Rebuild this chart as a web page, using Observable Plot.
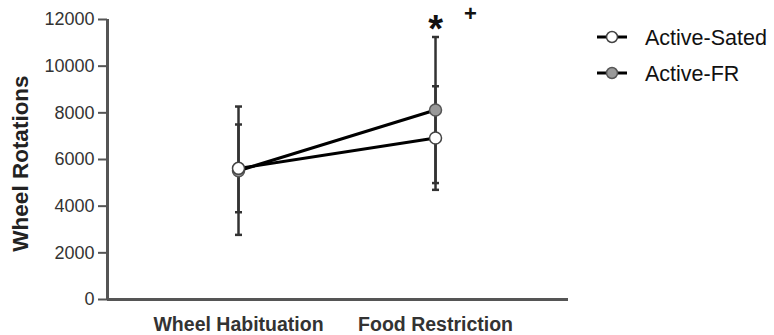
<!DOCTYPE html>
<html>
<head>
<meta charset="utf-8">
<script src="https://cdn.jsdelivr.net/npm/d3@7"></script>
<script src="https://cdn.jsdelivr.net/npm/@observablehq/plot@0.6"></script>
<style>
  body { margin: 0; background: #fff; }
  #chart { position: relative; width: 774px; height: 335px; font-family: "Liberation Sans", Arial, sans-serif; }
  #legend { position: absolute; left: 590px; top: 20px; }
</style>
</head>
<body>
<div id="chart"><div id="legend"></div></div>
<script>
// Phases on the x axis
const phases = ["Wheel Habituation", "Food Restriction"];
// Groups
const groups = ["Active-Sated", "Active-FR"];
// Mean wheel rotations per phase, one array per group
const satedMean = [5620, 6920];
const frMean = [5520, 8120];
// Error (±) per phase
const satedErr = [1880, 2220];
const frErr = [2750, 3130];
// Y axis ticks
const yTicks = [0, 2000, 4000, 6000, 8000, 10000, 12000];

const rows = [];
phases.forEach((p, i) => {
  rows.push({group: groups[0], phase: p, i, mean: satedMean[i], err: satedErr[i]});
  rows.push({group: groups[1], phase: p, i, mean: frMean[i], err: frErr[i]});
});
const sated = rows.filter(d => d.group === groups[0]);
const fr = rows.filter(d => d.group === groups[1]);

// horizontal cap used at the ends of the error bars
const capSymbol = {
  draw(ctx, size) {
    const r = Math.sqrt(size / Math.PI);
    ctx.moveTo(-r, 0);
    ctx.lineTo(r, 0);
  }
};

const xDomain = [-0.665, 1.675];
const axisColor = "#555";

const plot = Plot.plot({
  width: 774,
  height: 335,
  marginLeft: 107,
  marginRight: 206,
  marginTop: 19,
  marginBottom: 36,
  style: {fontFamily: "'Liberation Sans', Arial, sans-serif", background: "#fff", overflow: "visible"},
  x: {type: "linear", domain: xDomain},
  y: {domain: [0, 12000]},
  marks: [
    // y axis with ticks
    Plot.axisY({ticks: yTicks, tickSize: 9, tickPadding: 4, stroke: axisColor, strokeWidth: 2,
      fill: "#333", fontSize: 18, label: null, tickFormat: d => String(d)}),
    // x axis category labels
    Plot.axisX({ticks: [0, 1], tickFormat: i => phases[i], tickSize: 0, tickPadding: 18,
      fill: "#333", fontSize: 19.5, fontWeight: "bold", label: null}),
    // axis lines
    Plot.ruleX([xDomain[0]], {stroke: axisColor, strokeWidth: 3}),
    Plot.ruleY([0], {stroke: axisColor, strokeWidth: 3}),
    // y axis title
    Plot.text(["Wheel Rotations"], {frameAnchor: "left", rotate: -90, dx: -87, dy: 4,
      fontSize: 22.5, fontWeight: "bold", fill: "#222", textAnchor: "middle"}),
    // error bars
    Plot.ruleX(rows, {x: "i", y1: d => d.mean - d.err, y2: d => d.mean + d.err, stroke: "#333", strokeWidth: 2.5}),
    Plot.dot(rows, {x: "i", y: d => d.mean + d.err, symbol: capSymbol, r: 3.5, stroke: "#333", strokeWidth: 2.5}),
    Plot.dot(rows, {x: "i", y: d => d.mean - d.err, symbol: capSymbol, r: 3.5, stroke: "#333", strokeWidth: 2.5}),
    // group lines
    Plot.line(rows, {x: "i", y: "mean", z: "group", stroke: "#000", strokeWidth: 3}),
    // points
    Plot.dot(fr, {x: "i", y: "mean", r: 6, fill: "#999", stroke: "#555", strokeWidth: 1.5}),
    Plot.dot(sated, {x: "i", y: "mean", r: 6, fill: "#fff", stroke: "#444", strokeWidth: 1.5}),
    // significance markers above Food Restriction
    Plot.text(fr.filter(d => d.i === 1), {x: "i", y: () => 12000, text: () => "*", fontSize: 38,
      fontWeight: "bold", fill: "#111", lineAnchor: "middle", dy: 10}),
    Plot.text(fr.filter(d => d.i === 1), {x: "i", y: () => 12000, text: () => "+", fontSize: 22,
      fontWeight: "bold", fill: "#111", lineAnchor: "middle", dx: 35, dy: -6})
  ]
});
document.getElementById("chart").prepend(plot);

// legend
const lg = d3.select("#legend").append("svg").attr("width", 184).attr("height", 70);
const legendStyles = [{fill: "#fff", stroke: "#444"}, {fill: "#999", stroke: "#555"}];
groups.forEach((g, k) => {
  const row = lg.append("g").attr("transform", `translate(0,${17 + k * 36})`);
  row.append("line").attr("x1", 7).attr("x2", 37).attr("stroke", "#000").attr("stroke-width", 3);
  row.append("circle").attr("cx", 22).attr("r", 5.5).attr("fill", legendStyles[k].fill)
    .attr("stroke", legendStyles[k].stroke).attr("stroke-width", 1.5);
  row.append("text").attr("x", 55).attr("dy", "0.35em").attr("font-size", 21.5)
    .attr("font-family", "'Liberation Sans', Arial, sans-serif").attr("fill", "#111").text(g);
});
</script>
</body>
</html>
